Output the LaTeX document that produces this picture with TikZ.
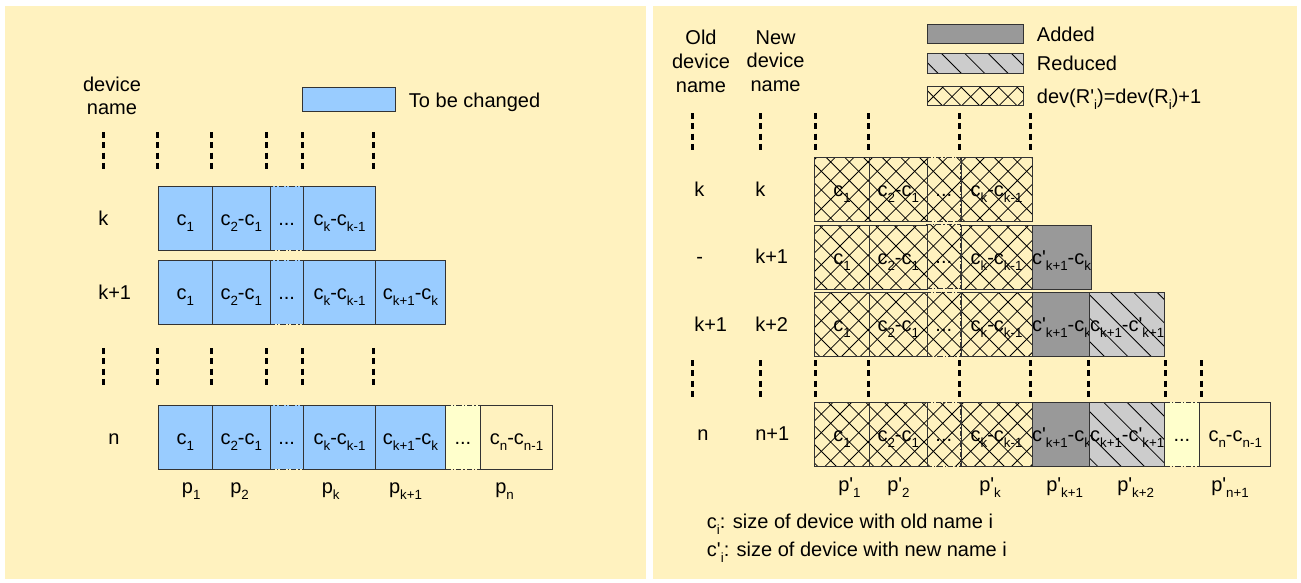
\documentclass[tikz,border=0pt]{standalone}
\usepackage{fontspec}
\setmainfont{Liberation Sans}
\usetikzlibrary{patterns}

\definecolor{panelbg}{HTML}{FFF2BF}
\definecolor{paleyel}{HTML}{FFFFCC}
\definecolor{cellblue}{HTML}{99CCFF}
\definecolor{addgray}{HTML}{999999}
\definecolor{redgray}{HTML}{CCCCCC}
\definecolor{edge}{HTML}{333333}

% lowered small index, as in c_1
\newcommand\lo[1]{\raisebox{-4.5pt}{\fontsize{10pt}{10pt}\selectfont #1}}
% straight prime
\newcommand\pr{\textquotesingle}

% wide diamond cross-hatching
\pgfdeclarepatternformonly{bigcross}{\pgfqpoint{-1pt}{-1pt}}{\pgfqpoint{15pt}{15pt}}{\pgfqpoint{14pt}{14pt}}{%
  \pgfsetdash{}{0pt}%
  \pgfsetlinewidth{0.6pt}%
  \pgfpathmoveto{\pgfqpoint{0pt}{0pt}}\pgfpathlineto{\pgfqpoint{14pt}{14pt}}%
  \pgfpathmoveto{\pgfqpoint{0pt}{14pt}}\pgfpathlineto{\pgfqpoint{14pt}{0pt}}%
  \pgfusepath{stroke}}
% wide falling diagonals
\pgfdeclarepatternformonly{bigfall}{\pgfqpoint{-1pt}{-1pt}}{\pgfqpoint{18.5pt}{18.5pt}}{\pgfqpoint{17.5pt}{17.5pt}}{%
  \pgfsetdash{}{0pt}%
  \pgfsetlinewidth{0.6pt}%
  \pgfpathmoveto{\pgfqpoint{0pt}{17.5pt}}\pgfpathlineto{\pgfqpoint{17.5pt}{0pt}}%
  \pgfusepath{stroke}}

% one box of a row: name, style, left x, right x, top y, text
\newcommand\boxcell[6]{%
  \node[#2, minimum width={(#4-#3)*0.75pt}] (#1) at (#3,#5) {#6};}

\tikzset{
  every node/.style={font=\fontsize{15pt}{17pt}\selectfont, inner sep=0pt, text=black},
  cellbase/.style={anchor=north west, minimum height=48pt, text height=10.5pt, text depth=0pt},
  solidedge/.style={draw=edge, line width=0.8pt},
  dashedge/.style={postaction={draw=edge, line width=0.8pt, dash pattern=on 4pt off 1.5pt on 1pt off 1.5pt}},
  blue/.style={cellbase, solidedge, fill=cellblue},
  bluedots/.style={cellbase, fill=cellblue, dashedge},
  paledots/.style={cellbase, fill=paleyel, dashedge},
  plain/.style={cellbase, solidedge, fill=panelbg},
  cross/.style={cellbase, solidedge, preaction={fill=panelbg}, pattern=bigcross, pattern color=black},
  crossdots/.style={cellbase, preaction={fill=panelbg}, pattern=bigcross, pattern color=black, dashedge},
  added/.style={cellbase, solidedge, fill=addgray},
  reduced/.style={cellbase, solidedge, preaction={fill=redgray}, pattern=bigfall, pattern color=black},
  legbox/.style={draw=edge, line width=0.8pt, anchor=north west, minimum width=72pt},
  vmark/.style={line width=2.25pt, dash pattern=on 4.5pt off 3.2pt, draw=black},
  lbl/.style={anchor=base west},
  head/.style={anchor=north, align=center},
}

\begin{document}
\begin{tikzpicture}[x=0.75pt,y=-0.75pt]
\useasboundingbox (0,0) rectangle (1301,582);
\fill[white] (0,0) rectangle (1301,582);
\fill[panelbg] (5,6) rectangle (646,579);
\fill[panelbg] (653,6) rectangle (1297,579);

% ---------------- left: device names before the change ----------------
\node[head] (lhead) at (112,76.7) {device\\name};
\node[legbox, fill=cellblue, minimum width={(395.4-301.7)*0.75pt}, minimum height={(111-87.3)*0.75pt}] (legchg) at (301.7,87.3) {};
\node[lbl] (legchgtxt) at (408.7,107.3) {To be changed};

\foreach \x in {103,157.7,211.6,266.4,302.5,373} {
  \draw[vmark] (\x,132) -- (\x,169);
  \draw[vmark] (\x,348) -- (\x,385);
}

% row k
\node[lbl] (lk) at (98,225) {k};
\boxcell{akd}{bluedots}{269.5}{303.3}{186}{...}
\boxcell{ak1}{blue}{157.7}{212}{186}{c\lo{1}}
\boxcell{ak2}{blue}{212}{269.5}{186}{c\lo{2}-c\lo{1}}
\boxcell{akk}{blue}{303.3}{374.7}{186}{c\lo{k}-c\lo{k-1}}

% row k+1
\node[lbl] (lk1) at (98,299) {k+1};
\boxcell{bkd}{bluedots}{269.5}{303.3}{260}{...}
\boxcell{bk1}{blue}{157.7}{212}{260}{c\lo{1}}
\boxcell{bk2}{blue}{212}{269.5}{260}{c\lo{2}-c\lo{1}}
\boxcell{bkk}{blue}{303.3}{374.7}{260}{c\lo{k}-c\lo{k-1}}
\boxcell{bkn}{blue}{374.7}{445.2}{260}{c\lo{k+1}-c\lo{k}}

% row n
\node[lbl] (ln) at (108,444) {n};
\boxcell{cnd}{bluedots}{269.5}{303.3}{405}{...}
\boxcell{cne}{paledots}{445.2}{480}{405}{...}
\boxcell{cn1}{blue}{157.7}{212}{405}{c\lo{1}}
\boxcell{cn2}{blue}{212}{269.5}{405}{c\lo{2}-c\lo{1}}
\boxcell{cnk}{blue}{303.3}{374.7}{405}{c\lo{k}-c\lo{k-1}}
\boxcell{cnl}{blue}{374.7}{445.2}{405}{c\lo{k+1}-c\lo{k}}
\boxcell{cnn}{plain}{480}{552}{405}{c\lo{n}-c\lo{n-1}}

\node[lbl] (p1) at (181.7,493) {p\lo{1}};
\node[lbl] (p2) at (230,493) {p\lo{2}};
\node[lbl] (pk) at (321.6,493) {p\lo{k}};
\node[lbl] (pk1) at (388.8,493) {p\lo{k+1}};
\node[lbl] (pn) at (495,493) {p\lo{n}};

% ---------------- right: device names after the change ----------------
\node[head, font=\fontsize{15pt}{17.75pt}\selectfont] (rold) at (701,30) {Old\\device\\name};
\node[head, font=\fontsize{15pt}{17.75pt}\selectfont] (rnew) at (775.6,30) {New\\device\\name};

\node[legbox, fill=addgray, minimum width={96*0.75pt}, minimum height={19.3*0.75pt}] (legadd) at (927.3,24) {};
\node[legbox, preaction={fill=redgray}, pattern=bigfall, minimum width={96*0.75pt}, minimum height={20*0.75pt}] (legred) at (927.3,53.3) {};
\node[legbox, preaction={fill=panelbg}, pattern=bigcross, minimum width={96*0.75pt}, minimum height={19.3*0.75pt}] (legdev) at (927.3,85.7) {};
\node[lbl] (legaddtxt) at (1036.7,41.7) {Added};
\node[lbl] (legredtxt) at (1036.7,70) {Reduced};
\node[lbl] (legdevtxt) at (1036.7,103.3) {dev(R\pr\lo{i})=dev(R\lo{i})+1};

\foreach \x in {692.8,760.2,815,868.3,959,1030} {
  \draw[vmark] (\x,113) -- (\x,150);
}
\foreach \x in {692.8,760.2,815,868.3,959,1030,1088.7,1165.6,1201} {
  \draw[vmark] (\x,360) -- (\x,397);
}

% row k / k
\node[lbl] (ok) at (694,196.3) {k};
\node[lbl] (nk) at (755,196.3) {k};
\boxcell{d1d}{crossdots}{926.5}{960.5}{157.3}{...}
\boxcell{d11}{cross}{814.2}{869}{157.3}{c\lo{1}}
\boxcell{d12}{cross}{869}{926.5}{157.3}{c\lo{2}-c\lo{1}}
\boxcell{d1k}{cross}{960.5}{1031.5}{157.3}{c\lo{k}-c\lo{k-1}}

% row - / k+1
\node[lbl] (ok1) at (696,263.5) {-};
\node[lbl] (nk1) at (755,263.5) {k+1};
\boxcell{d2d}{crossdots}{926.5}{960.5}{224.5}{...}
\boxcell{d21}{cross}{814.2}{869}{224.5}{c\lo{1}}
\boxcell{d22}{cross}{869}{926.5}{224.5}{c\lo{2}-c\lo{1}}
\boxcell{d2k}{cross}{960.5}{1031.5}{224.5}{c\lo{k}-c\lo{k-1}}
\boxcell{d2a}{added}{1031.5}{1089}{224.5}{c\pr\lo{k+1}-c\lo{k}}

% row k+1 / k+2
\node[lbl] (ok2) at (694,331) {k+1};
\node[lbl] (nk2) at (755,331) {k+2};
\boxcell{d3d}{crossdots}{926.5}{960.5}{292}{...}
\boxcell{d31}{cross}{814.2}{869}{292}{c\lo{1}}
\boxcell{d32}{cross}{869}{926.5}{292}{c\lo{2}-c\lo{1}}
\boxcell{d3k}{cross}{960.5}{1031.5}{292}{c\lo{k}-c\lo{k-1}}
\boxcell{d3a}{added}{1031.5}{1089}{292}{c\pr\lo{k+1}-c\lo{k}}
\boxcell{d3r}{reduced}{1089}{1164.3}{292}{c\lo{k+1}-c\pr\lo{k+1}}

% row n / n+1
\node[lbl] (on) at (697,440.8) {n};
\node[lbl] (nn) at (755,440.8) {n+1};
\boxcell{d4d}{crossdots}{926.5}{960.5}{401.8}{...}
\boxcell{d4e}{paledots}{1164.3}{1199}{401.8}{...}
\boxcell{d41}{cross}{814.2}{869}{401.8}{c\lo{1}}
\boxcell{d42}{cross}{869}{926.5}{401.8}{c\lo{2}-c\lo{1}}
\boxcell{d4k}{cross}{960.5}{1031.5}{401.8}{c\lo{k}-c\lo{k-1}}
\boxcell{d4a}{added}{1031.5}{1089}{401.8}{c\pr\lo{k+1}-c\lo{k}}
\boxcell{d4r}{reduced}{1089}{1164.3}{401.8}{c\lo{k+1}-c\pr\lo{k+1}}
\boxcell{d4n}{plain}{1199}{1270.4}{401.8}{c\lo{n}-c\lo{n-1}}

\node[lbl] (q1) at (838,491) {p\pr\lo{1}};
\node[lbl] (q2) at (887,491) {p\pr\lo{2}};
\node[lbl] (qk) at (979,491) {p\pr\lo{k}};
\node[lbl] (qk1) at (1046,491) {p\pr\lo{k+1}};
\node[lbl] (qk2) at (1117,491) {p\pr\lo{k+2}};
\node[lbl] (qn1) at (1211,491) {p\pr\lo{n+1}};

\node[lbl] (nota) at (706.7,528.3) {c\lo{i}: size of device with old name i};
\node[lbl] (notb) at (706.7,556.7) {c\pr\lo{i}: size of device with new name i};
\end{tikzpicture}
\end{document}
